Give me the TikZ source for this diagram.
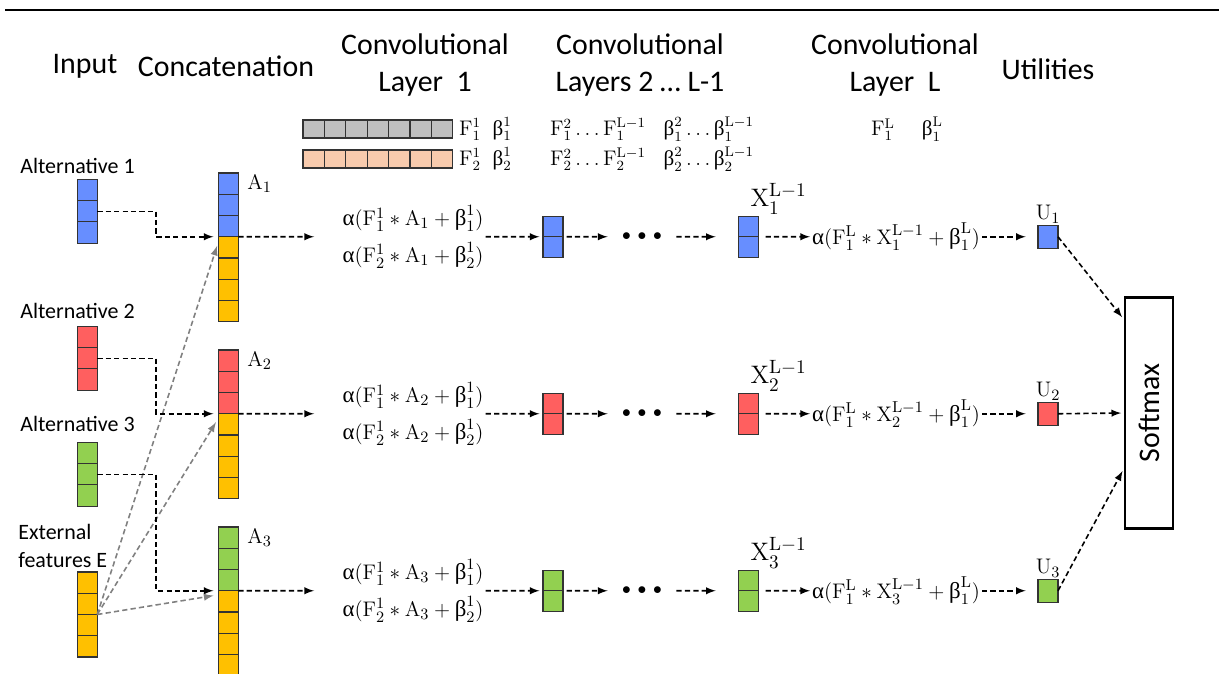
\documentclass[tikz,border=0pt]{standalone}
\usepackage[no-math]{fontspec}
\setmainfont{Carlito}
\newfontfamily\gkfont{Liberation Serif}
\usepackage{amsmath}
\usetikzlibrary{positioning}

\definecolor{cblue}{RGB}{103,142,255}
\definecolor{cred}{RGB}{255,95,95}
\definecolor{cgreen}{RGB}{146,208,80}
\definecolor{cgold}{RGB}{255,192,0}
\definecolor{cgray}{RGB}{191,191,191}
\definecolor{cpeach}{RGB}{248,203,173}
\definecolor{carrow}{RGB}{128,128,128}

\newcommand{\ua}{\mbox{\gkfont α}}
\newcommand{\ub}{\mbox{\gkfont β}}
\newcommand{\rF}{\mathrm{F}}
\newcommand{\rL}{\mathrm{L}}

\begin{document}
\begin{tikzpicture}[x=0.02cm,y=-0.02cm,>=latex,
  cell/.style={draw=black!80,line width=0.6pt,minimum width=0.39cm,minimum height=0.425cm,inner sep=0pt,outer sep=0pt},
  dar/.style={->,line width=0.9pt,dash pattern=on 3pt off 1.8pt},
  gar/.style={dar,draw=carrow},
  head/.style={font=\fontsize{17}{21}\selectfont,align=center},
  lab/.style={font=\fontsize{12.5}{16}\selectfont,inner sep=0pt,anchor=west},
  frm/.style={font=\fontsize{13}{21}\selectfont,inner sep=1pt},
  wts/.style={font=\fontsize{12}{14}\selectfont,inner sep=1pt}]
\useasboundingbox (0,0) rectangle (1219,673);
\draw[line width=1.7pt] (5,10) -- (1219,10);

% headings
\node[head] (hin) at (85,66) {Input};
\node[head] (hcat) at (226,66) {Concatenation};
\node[head] (hc1) at (425,65) {Convolutional\\Layer~ 1};
\node[head] (hc2) at (640,65) {Convolutional\\Layers 2 … L-1};
\node[head] (hcl) at (895,65) {Convolutional\\Layer~ L};
\node[head] (hut) at (1048,69) {Utilities};

% filters
\foreach \i in {1,...,7} {
  \node[cell,fill=cgray,minimum width=0.428cm,minimum height=0.36cm] (fa-\i) at ({303+21.4*(\i-0.5)},129) {};
  \node[cell,fill=cpeach,minimum width=0.428cm,minimum height=0.36cm] (fb-\i) at ({303+21.4*(\i-0.5)},159) {};
}
\node[wts,anchor=west] (wa) at (457,129) {$\rF_1^1\;\;\ub_1^1$};
\node[wts,anchor=west] (wb) at (457,159) {$\rF_2^1\;\;\ub_2^1$};
\node[wts,anchor=west] (va) at (548,129) {$\rF_1^2\ldots\rF_1^{\rL-1}\;\;\;\ub_1^2\ldots\ub_1^{\rL-1}$};
\node[wts,anchor=west] (vb) at (548,159) {$\rF_2^2\ldots\rF_2^{\rL-1}\;\;\;\ub_2^2\ldots\ub_2^{\rL-1}$};
\node[wts] (wl) at (907,129) {$\rF_1^{\rL}\quad\;\ub_1^{\rL}$};

% inputs
\node[lab] (l1) at (20,166) {Alternative 1};
\node[lab] (l2) at (20,311) {Alternative 2};
\node[lab] (l3) at (20,424) {Alternative 3};
\node[lab,align=left] (le) at (18,546) {External\\features E};
\foreach \i in {1,...,4}
  \node[cell,fill=cgold] (e-\i) at (87.5,{572+21.25*(\i-0.5)}) {};

\node[draw,line width=1.4pt,minimum width=0.96cm,minimum height=4.62cm,inner sep=0pt,font=\fontsize{17}{19}\selectfont] (sm) at (1149,413) {\rotatebox{90}{Softmax}};

\foreach \n/\cl/\ry/\py in {1/cblue/236.75/180, 2/cred/413.75/327, 3/cgreen/590.75/443} {
  \foreach \i in {1,2,3}
    \node[cell,fill=\cl] (p\n-\i) at (87.5,{\py+21*(\i-0.5)}) {};
  \foreach \i in {1,2,3}
    \node[cell,fill=\cl] (a\n-\i) at (228.5,{\ry-63.75+21.25*(\i-0.5)}) {};
  \foreach \i in {4,...,7}
    \node[cell,fill=cgold] (a\n-\i) at (228.5,{\ry-63.75+21.25*(\i-0.5)}) {};
  \node[frm,right=4pt] (al\n) at (a\n-1.east) {$\mathrm{A}_\n$};

  \node[frm,align=left] (f\n) at (413,\ry) {$\ua(\rF_1^1 \ast \mathrm{A}_\n + \ub_1^1)$\\$\ua(\rF_2^1 \ast \mathrm{A}_\n + \ub_2^1)$};
  \foreach \i in {1,2}
    \node[cell,fill=\cl,minimum width=0.4cm,minimum height=0.41cm] (s\n-\i) at (553,{\ry-20.5+20.5*(\i-0.5)}) {};
  \node[inner sep=8pt] (d\n) at (642,\ry) {$\bullet\,\bullet\,\bullet$};
  \foreach \i in {1,2}
    \node[cell,fill=\cl,minimum width=0.4cm,minimum height=0.41cm] (x\n-\i) at (748.5,{\ry-20.5+20.5*(\i-0.5)}) {};
  \node[frm,font=\fontsize{15}{17}\selectfont,above right] (xl\n) at (x\n-1.north) {$\mathrm{X}_\n^{\rL-1}$};
  \node[frm] (g\n) at (896,\ry) {$\ua(\rF_1^{\rL} \ast \mathrm{X}_\n^{\rL-1} + \ub_1^{\rL})$};
  \node[cell,fill=\cl,minimum width=0.4cm,minimum height=0.46cm] (u\n) at (1048,\ry) {};
  \node[frm,above] (ul\n) at (u\n.north) {$\mathrm{U}_\n$};

  \draw[dar,shorten >=3pt] (p\n-2.east) -- ++(59,0) |- (a\n-3.south west);
  \draw[gar,shorten >=3pt] (e-2.south east) -- ([yshift=-0.08cm]a\n-4.north west);
  \draw[dar,shorten >=15pt] (a\n-3.south east) -- (f\n.west);
  \draw[dar,shorten >=2pt] (f\n.east) -- (s\n-1.south west);
  \draw[dar,shorten <=2pt] (s\n-1.south east) -- (d\n.west);
  \draw[dar,shorten >=13pt] (d\n.east) -- (x\n-1.south west);
  \draw[dar,shorten <=4pt] (x\n-1.south east) -- (g\n.west);
  \draw[dar,shorten >=7pt] (g\n.east) -- (u\n.west);
}

\draw[dar,shorten >=1.5pt] (u1.east) -- ([yshift=-0.46cm]sm.north west);
\draw[dar,shorten >=1.5pt] (u2.east) -- (sm.west);
\draw[dar,shorten >=1.5pt] (u3.east) -- ([yshift=1.22cm]sm.south west);
\end{tikzpicture}
\end{document}
